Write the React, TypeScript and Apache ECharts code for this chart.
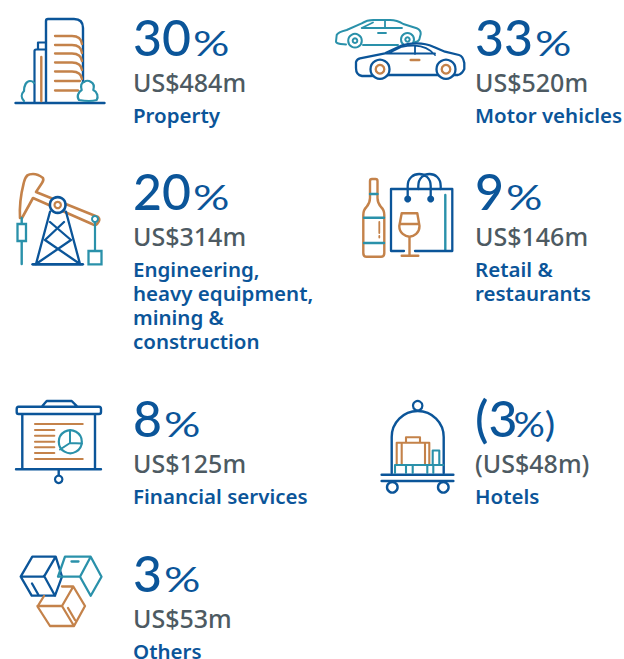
import React, { useEffect, useRef } from "react";
import * as echarts from "echarts";

const BLUE = "#0b5599";
const ORANGE = "#c4824a";
const TEAL = "#2a91aa";
const GREY = "#4d5a62";

const percents = ["30", "33", "20", "9", "8", "(3", "3"];
const percentSuffix = ["%", "%", "%", "%", "%", "%)", "%"];
const amounts = ["US$484m", "US$520m", "US$314m", "US$146m", "US$125m", "(US$48m)", "US$53m"];
const labels = [
  ["Property"],
  ["Motor vehicles"],
  ["Engineering,", "heavy equipment,", "mining &", "construction"],
  ["Retail &", "restaurants"],
  ["Financial services"],
  ["Hotels"],
  ["Others"],
];
const colX = [133, 475, 133, 475, 133, 475, 133];
const baseY = [56, 56, 210, 210, 437, 437, 592];

type P = [string, string, number, string?];
const iconPaths: P[] = [
  // property
  ["M46 102V21Q46 19 48 19H74Q83 19 83 28V83", BLUE, 2.4],
  ["M15.5 103H104.5", BLUE, 2.4],
  ["M46 49.5H36Q34.5 49.5 34.5 51V102", BLUE, 2.2],
  ["M38 49V42.5H46", BLUE, 2.2],
  ["M41.3 57V101", ORANGE, 2.4],
  ["M55 36H72Q81 36 82 44M55 45H72Q81 45 82 53M55 53.5H72Q81 53.5 82 61M55 62.5H72Q81 62.5 82 70M55 71.5H72Q81 71.5 82 79M55 81H80M55 90.5H78", ORANGE, 2.3],
  ["M24 101C21 98 21 94 24 91C24 86 26 81 30 81Q33 81 34 83", TEAL, 2.2],
  ["M79 100C76.5 97 78 92 81.7 90C80.5 86 81 83 84 82Q87.3 79.5 91 82Q95 84 93.3 90C97.5 92 98.5 97 96.7 100Q90 102 79 100Z", TEAL, 2.2, "#fff"],
  // cars
  ["M346 44.5C341 44 336 44 336 41.5L336.7 35Q338 32 346.7 30L361.7 23.3Q367 20 373.3 20H390Q397 20 403.3 24L416.7 28.3Q421 30 420.7 34L419.3 39.5Q418 42 415 42M363 45H398", TEAL, 2],
  ["M361.7 28L373 22.5M361.7 28H402M385 21V28M378 33H386", TEAL, 1.8],
  ["M370 76H362Q356 75 356 68V62Q357 59 360 58.3L385 53.3L401.7 45.5Q408 43.3 416.7 43.3Q426 43.3 433.3 46.7L445 51.7L459 55Q463 56 464.3 63V69Q462 74 458 75H436H390Z", BLUE, 2.3, "#fff"],
  ["M388 53.5L401.7 46.8Q408 45.5 415 45.7Q427 46 435 55M415 45.7V54M386 53.5H435", BLUE, 1.8],
  ["M410.7 60H419.3", ORANGE, 2.4],
  // pump
  ["M20 218C19 200 22 190 24 182C26 175 28 174 33 174Q38 174 43 178Q44 180 42 183L36 192L98 217Q101 220 97 224Q95 226 92 224L33 198L22 218", ORANGE, 2.6],
  ["M21.7 218V224M21.7 241V264", TEAL, 2.4],
  ["M95 222V250", TEAL, 2.2],
  ["M32.7 264.3H82.7", BLUE, 2.8],
  ["M50 211.7L36 264M66 211.7L80 264M50 222L71 240M64 222L45 240M45 240L80 264M71 240L36 264", BLUE, 2.3],
  // retail
  ["M370 198V181Q370 179 372 179H375.5Q377.5 179 377.5 181V198Q377.5 203 381 207Q384.3 210 384.3 215V253Q384.3 256.7 381 256.7H366.5Q363.3 256.7 363.3 253V215Q363.3 210 366.5 207Q370 203 370 198Z", ORANGE, 2.4],
  ["M370 194H377.5M364 217.7H384M364 243H384M445.3 195V250", TEAL, 2.4],
  ["M379.3 222V233M379.3 236V237.5", ORANGE, 1.8],
  ["M404 251H391V189H452.3V251H415", BLUE, 2.3],
  ["M407.7 198V186C407.7 170 430.7 170 430.7 186V198M418.3 189V186C418.3 170 440.7 170 440.7 186V189", BLUE, 2.3],
  ["M401.7 213.3H417.3L419.5 226C419.5 233 414 236.7 409.5 236.7C405 236.7 399.3 233 399.3 226ZM400 224H419M409.5 236.7V255.5M401.7 255.7H418.3", ORANGE, 2.4],
  // financial
  ["M18.5 406.7H99Q101 406.7 101 409V412Q101 414 99 414H18.5Q16.7 414 16.7 412V409Q16.7 406.7 18.5 406.7ZM41.7 406.7L46.7 401H71.7L77.3 406.7M22.3 414V469M95 414V469M16 469.3H101M58.7 469.3V475.5", BLUE, 2.4],
  ["M35 424H82.7M35 459H82.7M35 430H54.3M35 435.7H54.3M35 441.7H54.3M35 447.3H54.3M35 453H54.3", ORANGE, 2.1],
  ["M70 430.5V443L82 443.5M70 443L60 449.5", TEAL, 2],
  // hotels
  ["M391.7 473V437A26 26 0 0 1 443.7 437V473", BLUE, 2.4],
  ["M381.7 474.7H453.3M381.7 481H453.3", BLUE, 2.6],
  ["M396.7 464V442.7H429.3V464M406 442.7V437.3H420V442.7M401.7 443V464M425 443V464", ORANGE, 2.1],
  ["M432.7 465V450.5H439.3V465M395 473V465H443.3M406 465V473M412.7 465V473M427.3 465V473M433.3 465V473", TEAL, 2.1],
  // others
  ["M32.3 556.7H55.7L62 576.7L55 595.7H31.7L20.7 576.7ZM20.7 576.7H44L55.7 556.7M44 575.7L55 595.7M32 583.5L38.5 595", BLUE, 2.3],
  ["M58 576.7H80L90.7 556.7M58 576.7L65 556.7H90.7L101.5 576.7L90.7 595.7L80 576.7M71.5 561.5H78.5", TEAL, 2.3],
  ["M62 586.5H73.3L85 606L74 626H50L37.5 606.5L44 596M37.5 606H62L73.3 586.5M62 606L74 626M68 608L75 620", ORANGE, 2.3],
];
const earlyDots: [number, number, number, string, number][] = [
  [355, 40.7, 6.8, TEAL, 2],
  [355, 40.7, 2.3, TEAL, 2],
  [407.5, 39.5, 6.5, TEAL, 2],
  [407.5, 39.5, 2.2, TEAL, 2],
  [70.3, 441.7, 11.5, TEAL, 2.2],
];
const iconDots: [number, number, number, string, number][] = [
  [380, 69.3, 9.5, BLUE, 2.3],
  [380, 69.3, 4.3, ORANGE, 2.3],
  [446, 69.3, 9.5, BLUE, 2.3],
  [446, 69.3, 4.3, ORANGE, 2.3],
  [57.7, 205, 7.8, BLUE, 2.6],
  [57.7, 205, 3.2, ORANGE, 2.2],
  [95, 219, 3, TEAL, 2],
  [58.7, 479.3, 3.7, BLUE, 2.2],
  [417.7, 405.7, 4.7, BLUE, 2.2],
  [392.3, 487.3, 5.3, BLUE, 2.4],
  [443.3, 487.3, 5.3, BLUE, 2.4],
];
const iconRects: [number, number, number, number, string][] = [
  [17.5, 224, 8.5, 17, TEAL],
  [88.5, 251, 13, 13.3, TEAL],
];
const filledDots: [number, number, number, string][] = [
  [407.7, 199, 3.5, BLUE],
  [430.7, 199, 3.5, BLUE],
];

const NUM_FONT = `500 50px Lato`;
const PCT_FONT = `400 35px Lato`;
const AMT_FONT = `500 25px "Noto Sans"`;
const LBL_FONT = `600 20.5px "Noto Sans"`;

export default function App() {
  const ref = useRef<HTMLDivElement>(null);
  useEffect(() => {
    document.body.style.margin = "0";
    const chart = echarts.init(ref.current!, undefined, { renderer: "svg" });
    const graphic: any[] = [];
    const circle = ([cx, cy, r, color, w]: [number, number, number, string, number]) =>
      graphic.push({ type: "circle", shape: { cx, cy, r }, style: { fill: "#fff", stroke: color, lineWidth: w } });
    earlyDots.forEach(circle);
    iconPaths.forEach(([d, color, w, fill], i) => {
      const name = "iconPart" + i;
      echarts.graphic.registerShape(name, echarts.graphic.extendPath(d, {}));
      graphic.push({
        type: name,
        x: 0,
        y: 0,
        style: { fill: fill || "none", stroke: color, lineWidth: w, lineCap: "round", lineJoin: "round" },
      });
    });
    iconDots.forEach(circle);
    filledDots.forEach(([cx, cy, r, color]) =>
      graphic.push({ type: "circle", shape: { cx, cy, r }, style: { fill: color } })
    );
    iconRects.forEach(([x, y, width, height, color]) =>
      graphic.push({ type: "rect", shape: { x, y, width, height }, style: { fill: "#fff", stroke: color, lineWidth: 2.3 } })
    );
    const canvas = document.createElement("canvas").getContext("2d")!;
    canvas.font = NUM_FONT;
    percents.forEach((p, i) => {
      const x = colX[i];
      const isOpenParen = p.startsWith("(");
      const numWidth = canvas.measureText(p).width;
      graphic.push({
        type: "text",
        x,
        y: baseY[i] - 44,
        style: { text: p, font: NUM_FONT, fill: BLUE },
      });
      graphic.push({
        type: "text",
        x: x + numWidth + (isOpenParen ? -4 : 2),
        y: baseY[i] - 31,
        scaleX: isOpenParen ? 1.12 : 1.3,
        style: { text: percentSuffix[i], font: PCT_FONT, fill: BLUE },
      });
      graphic.push({
        type: "text",
        x,
        y: baseY[i] + 34 - 21,
        style: { text: amounts[i], font: AMT_FONT, fill: GREY },
      });
      labels[i].forEach((line, j) =>
        graphic.push({
          type: "text",
          x,
          y: baseY[i] + 67 + j * 24 - 19,
          style: { text: line, font: LBL_FONT, fill: BLUE },
        })
      );
    });
    chart.setOption({ animation: false, graphic });
    return () => chart.dispose();
  }, []);
  return <div ref={ref} style={{ width: 624, height: 659 }} />;
}
